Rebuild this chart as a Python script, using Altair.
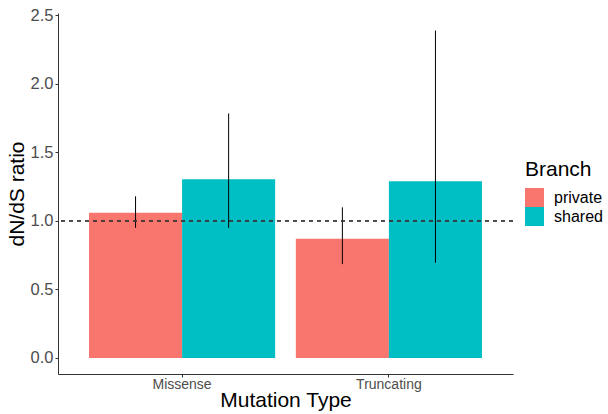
import altair as alt
import pandas as pd

mutation = ["Missense", "Missense", "Truncating", "Truncating"]
branch = ["private", "shared", "private", "shared"]
ratio = [1.06, 1.305, 0.87, 1.29]
lower = [0.95, 0.95, 0.685, 0.695]
upper = [1.18, 1.785, 1.10, 2.39]

df = pd.DataFrame({"Mutation Type": mutation, "Branch": branch, "ratio": ratio,
                   "lower": lower, "upper": upper})

FONT = "Liberation Sans"

x = alt.X("Mutation Type:N", title="Mutation Type",
          scale=alt.Scale(paddingInner=0.1, paddingOuter=0.15),
          axis=alt.Axis(labelAngle=0, labelFontSize=14, labelColor="#4d4d4d",
                        titleFontSize=21, titleFontWeight="normal", titleColor="black",
                        domainColor="#333333", tickColor="#333333", tickSize=3,
                        labelPadding=0, titlePadding=-2, grid=False))
xo = alt.XOffset("Branch:N", scale=alt.Scale(paddingInner=0, paddingOuter=0))
yscale = alt.Scale(domain=[-0.117, 2.518], nice=False, zero=False)

bars = alt.Chart(df).mark_bar(opacity=1).encode(
    x=x, xOffset=xo,
    y=alt.Y("ratio:Q", title="dN/dS ratio", scale=yscale,
            axis=alt.Axis(values=[0, 0.5, 1.0, 1.5, 2.0, 2.5], format=".1f",
                          labelFontSize=16.5, labelColor="#4d4d4d", titleFontSize=21,
                          titleFontWeight="normal", titleColor="black",
                          domainColor="#333333", tickColor="#333333", tickSize=3,
                          labelPadding=2, titlePadding=3, grid=False)),
    y2=alt.Y2(datum=0),
    color=alt.Color("Branch:N", scale=alt.Scale(domain=["private", "shared"],
                                                range=["#F8766D", "#00BFC4"]),
                    legend=alt.Legend(title="Branch", orient="none", legendX=467, legendY=146,
                                      titleFontSize=21, titleFontWeight="normal",
                                      titleColor="black", labelFontSize=16,
                                      labelColor="black", symbolType="square",
                                      symbolSize=361, symbolStrokeWidth=0,
                                      symbolOpacity=1, rowPadding=0, titlePadding=8,
                                      labelOffset=10)),
)

err = alt.Chart(df).mark_rule(color="black", strokeWidth=1).encode(
    x=alt.X("Mutation Type:N"), xOffset=alt.XOffset("Branch:N"),
    y=alt.Y("lower:Q", scale=yscale), y2="upper:Q",
)

hline = alt.Chart(df).mark_rule(color="#333333", strokeDash=[4, 4], strokeWidth=0.8).encode(
    y=alt.datum(1.0, scale=yscale)
)

chart = alt.layer(bars, err, hline).properties(
    width=455, height=361,
    autosize=alt.AutoSizeParams(type="none"),
    padding={"left": 58, "top": 13, "right": 95, "bottom": 40},
).configure(font=FONT).configure_view(stroke=None)

chart.save("out.html", embed_options={"renderer": "svg", "actions": False})
